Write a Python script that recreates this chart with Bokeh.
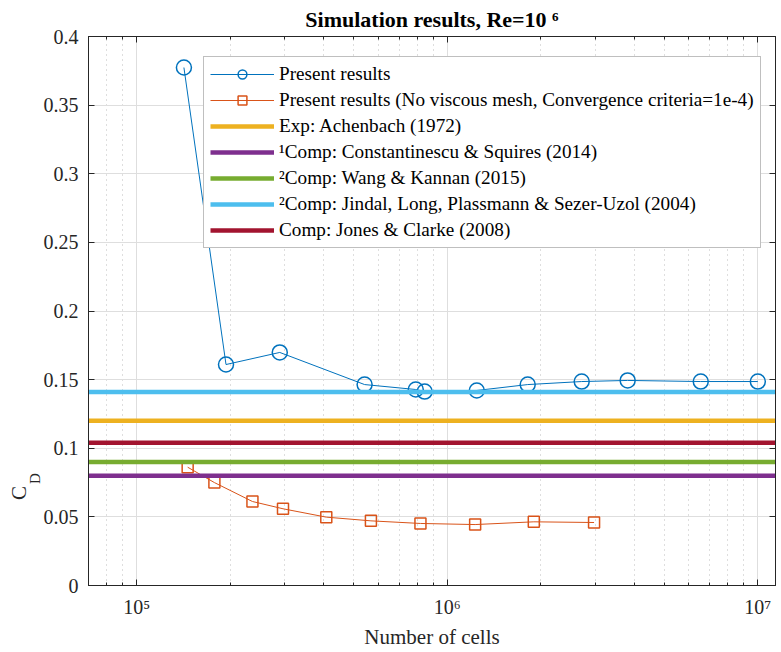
from bokeh.plotting import figure
from bokeh.models import (FixedTicker, LinearAxis, LogAxis, Legend, LegendItem,
                          Title, Range1d)
from bokeh.embed import file_html
from bokeh.resources import INLINE

# ---------------- data ----------------
cells_present = [1.42e5, 1.94e5, 2.89e5, 5.42e5, 7.92e5, 8.46e5, 1.245e6,
                 1.816e6, 2.71e6, 3.81e6, 6.55e6, 1.0e7]
cd_present = [0.3774, 0.161, 0.1698, 0.1464, 0.1428, 0.1413, 0.1421,
              0.1464, 0.1486, 0.1494, 0.1486, 0.1486]

cells_noviscous = [1.46e5, 1.78e5, 2.36e5, 2.96e5, 4.08e5, 5.68e5, 8.2e5,
                   1.23e6, 1.9e6, 2.97e6]
cd_noviscous = [0.0862, 0.0750, 0.0612, 0.0559, 0.0498, 0.0471, 0.0452,
                0.0444, 0.0464, 0.0459]

ref_labels = ["Exp: Achenbach (1972)",
              "\u00b9Comp: Constantinescu & Squires (2014)",
              "\u00b2Comp: Wang & Kannan (2015)",
              "\u00b2Comp: Jindal, Long, Plassmann & Sezer-Uzol (2004)",
              "Comp: Jones & Clarke (2008)"]
ref_cd = [0.12, 0.08, 0.09, 0.141, 0.104]
ref_colors = ["#EDB120", "#7E2F8E", "#77AC30", "#4DBEEE", "#A2142F"]

series_labels = ["Present results",
                 "Present results (No viscous mesh, Convergence criteria=1e-4)"]

x_limits = [7.0e4, 1.14e7]
y_limits = [0.0, 0.4]

x_ticks = [1e5, 1e6, 1e7]
x_tick_labels = ["10\u2075", "10\u2076", "10\u2077"]
x_minor_ticks = [k * 10.0 ** d for d in range(4, 8) for k in range(2, 10)]
y_ticks = [0.0, 0.05, 0.1, 0.15, 0.2, 0.25, 0.3, 0.35, 0.4]
y_tick_labels = ["0", "0.05", "0.1", "0.15", "0.2", "0.25", "0.3", "0.35", "0.4"]

title_text = "Simulation results, Re=10 \u2076"
x_label = "Number of cells"
y_label_main = "C"
y_label_sub = "D"

# ---------------- figure ----------------
FONT = "Liberation Serif"
AX = "#262626"

p = figure(width=781, height=652, x_axis_type="log",
           x_range=Range1d(*x_limits), y_range=Range1d(*y_limits),
           output_backend="svg", toolbar_location=None,
           min_border_left=88, min_border_right=6,
           min_border_top=36, min_border_bottom=67,
           background_fill_color="white", border_fill_color="white")

p.title.text = title_text
p.title.align = "center"
p.title.text_font = FONT
p.title.text_font_size = "22px"
p.title.text_font_style = "bold"
p.title.text_color = "#000000"
p.title.standoff = 9

xt = FixedTicker(ticks=x_ticks, minor_ticks=x_minor_ticks)
yt = FixedTicker(ticks=y_ticks, minor_ticks=[])

xa = p.xaxis[0]
xa.ticker = xt
xa.major_label_overrides = {t: l for t, l in zip(x_ticks, x_tick_labels)}
ya = p.yaxis[0]
ya.ticker = yt
ya.major_label_overrides = {t: l for t, l in zip(y_ticks, y_tick_labels)}

for ax in (xa, ya):
    ax.axis_line_color = AX
    ax.major_tick_line_color = AX
    ax.minor_tick_line_color = AX
    ax.major_tick_in = 6
    ax.major_tick_out = 0
    ax.minor_tick_in = 3
    ax.minor_tick_out = 0
    ax.major_label_text_font = FONT
    ax.major_label_text_font_size = "20px"
    ax.major_label_text_color = AX
ya.minor_tick_line_color = None
xa.major_label_standoff = 10
ya.major_label_standoff = 10
xa.axis_label = x_label
xa.axis_label_text_font = FONT
xa.axis_label_text_font_size = "21px"
xa.axis_label_text_font_style = "normal"
xa.axis_label_text_color = AX
xa.axis_label_standoff = 4

top = LogAxis(ticker=xt, major_label_overrides={t: "" for t in x_ticks},
              major_label_standoff=0,
              major_tick_in=6, major_tick_out=0, minor_tick_in=3, minor_tick_out=0,
              axis_line_color=AX, major_tick_line_color=AX, minor_tick_line_color=AX)
right = LinearAxis(ticker=yt, major_label_overrides={t: "" for t in y_ticks},
                   major_label_standoff=0,
                   major_tick_in=6, major_tick_out=0, minor_tick_line_color=None,
                   axis_line_color=AX, major_tick_line_color=AX)
p.add_layout(top, "above")
p.add_layout(right, "right")
p.outline_line_color = AX

# y-axis label "C_D" as two side titles (subscript nearer the axis)
p.add_layout(Title(text=y_label_sub, align="left", offset=101.5, standoff=-4,
                   text_font=FONT, text_font_size="15px", text_font_style="normal",
                   text_color=AX), "left")
p.add_layout(Title(text=y_label_main, align="left", offset=85.5, standoff=-8,
                   text_font=FONT, text_font_size="21px", text_font_style="normal",
                   text_color=AX), "left")

p.xgrid.ticker = xt
p.ygrid.ticker = yt
p.xgrid.grid_line_color = "#dedede"
p.ygrid.grid_line_color = "#dedede"
p.xgrid.minor_grid_line_color = "#bdbdbd"
p.xgrid.minor_grid_line_dash = "1 4"

# ---------------- glyphs ----------------
blue = "#0072BD"
orange = "#D95319"
l1 = p.line(cells_present, cd_present, line_color=blue, line_width=1)
s1 = p.scatter(cells_present, cd_present, marker="circle", size=15,
               fill_color=None, line_color=blue, line_width=1.5)
l2 = p.line(cells_noviscous, cd_noviscous, line_color=orange, line_width=1)
s2 = p.scatter(cells_noviscous, cd_noviscous, marker="square", size=11,
               fill_color=None, line_color=orange, line_width=1.5)

items = [LegendItem(label=series_labels[0], renderers=[l1, s1]),
         LegendItem(label=series_labels[1], renderers=[l2, s2])]
for lab, v, c in zip(ref_labels, ref_cd, ref_colors):
    r = p.line(x_limits, [v, v], line_color=c, line_width=4.5)
    items.append(LegendItem(label=lab, renderers=[r]))

legend = Legend(items=items, location=(115, 337), margin=0, padding=6,
                spacing=4, glyph_width=64, glyph_height=22, label_height=22,
                label_standoff=5, label_text_font=FONT, label_text_font_size="19.2px",
                label_text_color="#000000", border_line_color="#808080",
                border_line_width=1, background_fill_color="white",
                background_fill_alpha=1.0)
p.add_layout(legend, "center")

open("out.html", "w").write(file_html(p, INLINE))
